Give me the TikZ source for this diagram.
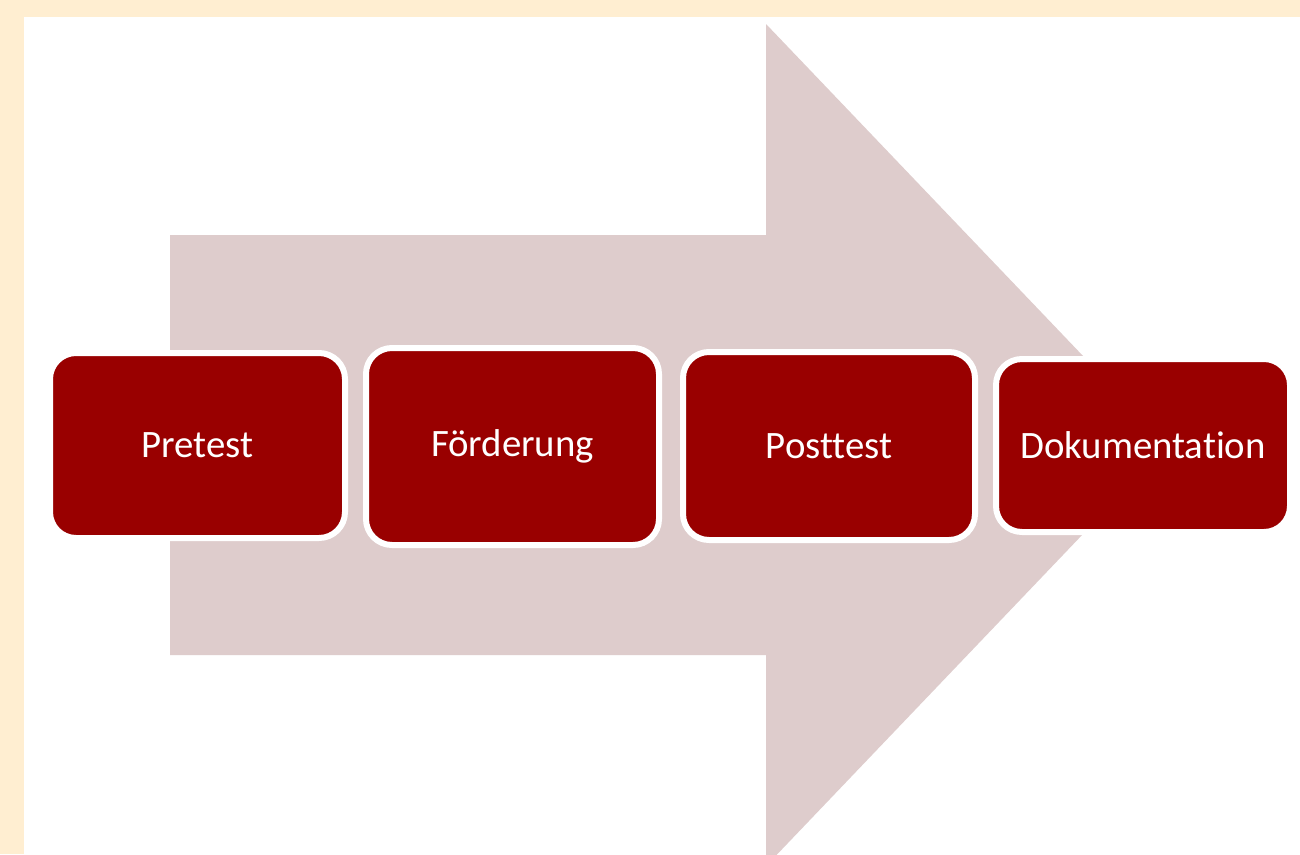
\documentclass[tikz,border=0pt]{standalone}
\usepackage{fontspec}
\setmainfont{Carlito}[Ligatures={NoCommon}]
\definecolor{cream}{HTML}{FFEED1}
\definecolor{arrowpink}{HTML}{DECCCC}
\definecolor{boxred}{HTML}{990000}
\begin{document}
\begin{tikzpicture}[x=1pt,y=-1pt,
  stepbox/.style={draw=white, line width=6pt, fill=boxred, rounded corners=26pt,
    inner sep=0pt, text=white, font=\fontsize{38.8pt}{46pt}\selectfont}]
\useasboundingbox (0,0) rectangle (1300,854);
\fill[cream] (0,0) rectangle (1300,854);
\fill[white] (24,17) rectangle (1300,854);
\begin{scope}
\clip (24,17) rectangle (1300,854);
\fill[arrowpink] (170,235) -- (766,235) -- (766,24) -- (1168,445) -- (766,866) -- (766,655) -- (170,655) -- cycle;
\end{scope}
\node[stepbox, minimum width=295pt, minimum height=185pt] (pre) at (197.5,445.5) {Pretest};
\node[stepbox, minimum width=293pt, minimum height=197pt] (foe) at (512.5,446.5) {Förderung};
\node[stepbox, minimum width=292pt, minimum height=188pt] (post) at (829,446) {Posttest};
\node[stepbox, minimum width=294pt, minimum height=173pt] (doku) at (1143,445.5) {Dokumentation};
\end{tikzpicture}
\end{document}
